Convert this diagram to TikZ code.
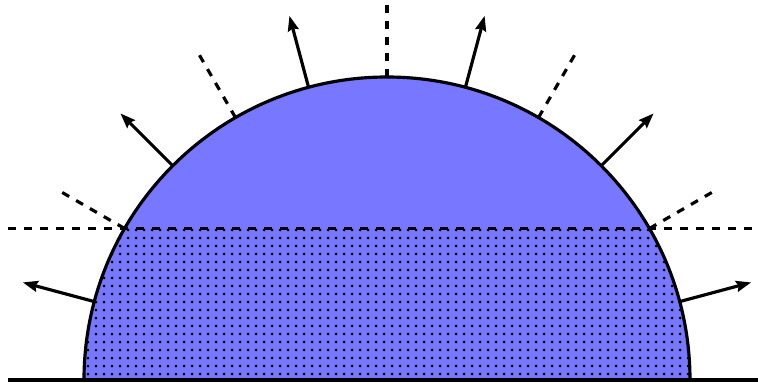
\documentclass[tikz,border=0pt]{standalone}
\usetikzlibrary{arrows.meta,patterns.meta}
\definecolor{diskblue}{RGB}{119,119,255}
\tikzset{
    ray/.style={line width=1.8pt, -{Stealth[length=0.3cm,width=0.22cm,inset=0.04cm]}},
    guide/.style={line width=1.8pt, dash pattern=on 0.16cm off 0.16cm}
  }

\begin{document}
\begin{tikzpicture}
    \useasboundingbox (-7.74,-0.04) rectangle (7.42,7.6);

    % half disk and its dotted lower band
    \fill[diskblue] (6.06,0) arc (0:180:6.06) -- cycle;
    \begin{scope}
      \clip (-7.74,0) rectangle (7.42,3.03);
      \fill[pattern={Dots[distance=0.16cm,radius=0.03cm]}] (6.06,0) arc (0:180:6.06) -- cycle;
    \end{scope}

    \draw[guide] (-7.58,3.03) -- (7.3,3.03);
    \draw[line width=1.8pt] (6.06,0) arc (0:180:6.06);
    \draw[line width=1.8pt] (-7.58,0) -- (7.42,0);

    \foreach \a in {15,45,...,165} {
      \draw[ray] (\a:6.06) -- (\a:7.54);
    }
    \foreach \a in {30,60,...,150} {
      \draw[guide] (\a:7.5) -- (\a:6.06);
    }
\end{tikzpicture}
\end{document}
